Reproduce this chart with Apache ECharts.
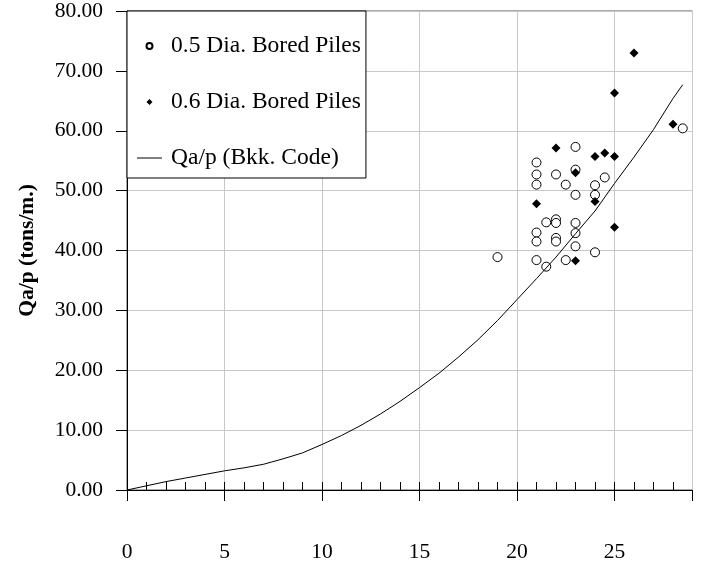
<!DOCTYPE html>
<html>
<head>
<meta charset="utf-8">
<script src="https://cdn.jsdelivr.net/npm/echarts@6.0.0/dist/echarts.min.js"></script>
<style>
    html, body { margin: 0; padding: 0; background: #fff; }
    #chart { width: 704px; height: 566px; }
</style>
</head>
<body>
<div id="chart"></div>
<script>
// 0.5 m bored piles (open circles)
const pile05X = [19, 21, 21, 21, 21, 21, 21, 21.5, 21.5, 22, 22, 22, 22, 22, 22.5, 22.5, 23, 23, 23, 23, 23, 23, 24, 24, 24, 24.5, 28.5];
const pile05Y = [38.9, 54.7, 52.7, 51.0, 43.0, 41.5, 38.4, 44.7, 37.3, 52.7, 45.2, 44.6, 42.1, 41.5, 51.0, 38.4, 57.3, 53.5, 49.3, 44.6, 42.9, 40.7, 50.9, 49.3, 39.7, 52.2, 60.4];

// 0.6 m bored piles (filled diamonds)
const pile06X = [21, 22, 23, 23, 24, 24, 24.5, 25, 25, 25, 26, 28];
const pile06Y = [47.8, 57.1, 53.0, 38.3, 55.7, 48.2, 56.3, 55.7, 66.3, 43.9, 73.0, 61.1];

// Bangkok code curve
const codeX = [0, 1, 2, 3, 4, 5, 6, 7, 8, 9, 10, 11, 12, 13, 14, 15, 16, 17, 18, 19, 20, 21, 22, 23, 24, 25, 26, 27, 28, 28.5];
const codeY = [0, 0.7, 1.4, 2.0, 2.6, 3.2, 3.7, 4.3, 5.2, 6.2, 7.6, 9.1, 10.8, 12.7, 14.8, 17.1, 19.5, 22.2, 25.1, 28.3, 31.8, 35.3, 38.9, 42.8, 46.6, 51.2, 55.6, 60.2, 65.4, 67.7];

const seriesNames = ["0.5 Dia. Bored Piles", "0.6 Dia. Bored Piles", "Qa/p (Bkk. Code)"];
const yAxisTitle = "Qa/p (tons/m.)";
const xLabelStep = 5;

const FONT = "'Liberation Serif', 'Times New Roman', serif";
const zip = (xs, ys) => xs.map((x, i) => [x, ys[i]]);

const chart = echarts.init(document.getElementById("chart"), null, { renderer: "canvas" });

const option = {
    animation: false,
    backgroundColor: "#fff",
    textStyle: { fontFamily: FONT, color: "#000" },
    grid: {
        left: 127,
        right: 11.5,
        top: 11,
        bottom: 76,
        show: true,
        borderColor: "#555",
        borderWidth: 1
    },
    legend: {
        orient: "vertical",
        left: 127,
        top: 11,
        padding: [22, 5, 7, 10],
        itemGap: 30,
        itemWidth: 25,
        itemHeight: 6,
        symbolKeepAspect: true,
        backgroundColor: "#fff",
        borderColor: "#000",
        borderWidth: 1,
        textStyle: { fontFamily: FONT, fontSize: 23.5, color: "#000", lineHeight: 26, padding: [0, 0, 0, 4] },
        data: [
            { name: seriesNames[0], icon: "circle" },
            // path icons keep their aspect, the built-in diamond gets stretched
            { name: seriesNames[1], icon: "path://M5,0L10,5L5,10L0,5Z" },
            // plain short line, no marker in the middle
            { name: seriesNames[2], icon: "path://M0,0h25v1h-25z" }
        ]
    },
    xAxis: [
        {
            // minor ticks every 1, pointing up into the plot, labels every 5
            type: "value",
            min: 0,
            max: 29,
            interval: 1,
            axisLine: { onZero: false, lineStyle: { color: "#000", width: 1 } },
            axisTick: { inside: true, length: 8, lineStyle: { color: "#000" } },
            axisLabel: {
                margin: 51,
                fontFamily: FONT,
                fontSize: 21.5,
                color: "#000",
                showMaxLabel: false,
                formatter: v => (v % xLabelStep === 0 ? String(v) : "")
            },
            splitLine: { show: false }
        },
        {
            // major ticks every 5, hanging below the axis, plus the vertical grid
            type: "value",
            position: "bottom",
            min: 0,
            max: 29,
            interval: 5,
            axisLine: { show: false, onZero: false },
            axisTick: { inside: false, length: 11, lineStyle: { color: "#000" } },
            axisLabel: { show: false },
            splitLine: { show: true, lineStyle: { color: "#c8c8c8", width: 1 } }
        }
    ],
    yAxis: {
        type: "value",
        min: 0,
        max: 80,
        interval: 10,
        name: yAxisTitle,
        nameLocation: "middle",
        nameRotate: 90,
        nameGap: 89,
        nameTextStyle: { fontFamily: FONT, fontSize: 21.5, fontWeight: "bold", color: "#000" },
        axisLine: { show: true, lineStyle: { color: "#000", width: 1 } },
        axisTick: { inside: false, length: 11, lineStyle: { color: "#000" } },
        axisLabel: {
            margin: 24,
            fontFamily: FONT,
            fontSize: 21.5,
            color: "#000",
            formatter: v => v.toFixed(2)
        },
        splitLine: { show: true, lineStyle: { color: "#c8c8c8", width: 1 } }
    },
    series: [
        {
            name: seriesNames[0],
            type: "scatter",
            symbol: "circle",
            symbolSize: 9,
            itemStyle: { color: "#fff", borderColor: "#000", borderWidth: 1, opacity: 1 },
            data: zip(pile05X, pile05Y)
        },
        {
            name: seriesNames[1],
            type: "scatter",
            symbol: "diamond",
            symbolSize: 9,
            itemStyle: { color: "#000", opacity: 1 },
            data: zip(pile06X, pile06Y)
        },
        {
            name: seriesNames[2],
            type: "line",
            symbol: "none",
            smooth: false,
            lineStyle: { color: "#000", width: 1 },
            itemStyle: { color: "#000" },
            data: zip(codeX, codeY)
        }
    ]
};

chart.setOption(option);
</script>
</body>
</html>
